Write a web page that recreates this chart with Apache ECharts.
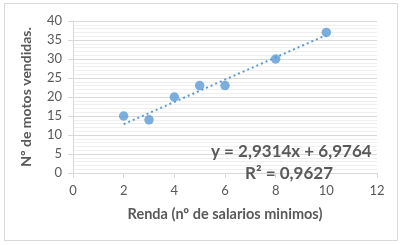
<!DOCTYPE html>
<html><head><meta charset="utf-8">
<script src="https://cdn.jsdelivr.net/npm/echarts@6/dist/echarts.min.js"></script>
<style>html,body{margin:0;padding:0;background:#fff}#c{width:405px;height:245px}</style>
</head><body><div id="c"></div>
<script>
const renda = [2, 3, 4, 5, 6, 8, 10];
const motos = [15, 14, 20, 23, 23, 30, 37];
const slope = 2.9314;
const intercept = 6.9764;
const r2Text = "0,9627";
const eqText = "y = 2,9314x + 6,9764";
const xTitle = "Renda (nº de salarios minimos)";
const yTitle = "Nº de motos vendidas.";

const points = renda.map((x, i) => [x, motos[i]]);
const xMin = Math.min(...renda), xMax = Math.max(...renda);
const trend = [[xMin, slope * xMin + intercept], [xMax, slope * xMax + intercept]];

const chart = echarts.init(document.getElementById('c'), null, {renderer: 'canvas'});
const font = 'Lato, "Open Sans", sans-serif';
const grey = '#595959';
chart.setOption({
  animation: false,
  backgroundColor: '#fff',
  grid: {left: 73, right: 28, top: 21, bottom: 72},
  xAxis: {
    type: 'value', min: 0, max: 12, interval: 2,
    name: xTitle, nameLocation: 'middle', nameGap: 34,
    nameTextStyle: {color: grey, fontFamily: font, fontWeight: 'bold', fontSize: 14.5},
    axisLine: {lineStyle: {color: '#d9d9d9'}},
    axisTick: {show: true, length: 5, lineStyle: {color: '#d9d9d9'}},
    axisLabel: {color: grey, fontFamily: font, fontSize: 13, margin: 11},
    splitLine: {show: false}
  },
  yAxis: {
    type: 'value', min: 0, max: 40, interval: 5,
    name: yTitle, nameLocation: 'middle', nameGap: 40, nameRotate: 90,
    nameTextStyle: {color: grey, fontFamily: font, fontWeight: 'bold', fontSize: 14},
    axisLine: {show: true, lineStyle: {color: '#d9d9d9'}},
    axisTick: {show: true, length: 5, lineStyle: {color: '#d9d9d9'}},
    axisLabel: {color: grey, fontFamily: font, fontSize: 13, margin: 11},
    splitLine: {show: true, lineStyle: {color: '#d9d9d9'}},
    minorTick: {show: false, splitNumber: 5},
    minorSplitLine: {show: true, lineStyle: {color: '#efefef'}}
  },
  graphic: [
    {type: 'rect', shape: {x: 4.5, y: 3.5, width: 393, height: 237}, style: {fill: null, stroke: '#d9d9d9', lineWidth: 1}, silent: true, z: -1},
    {type: 'text', left: 211, top: 143, style: {text: eqText, fill: grey, font: 'bold 17px ' + font}, z: 100},
    {type: 'text', left: 245, top: 165, style: {text: 'R² = ' + r2Text, fill: grey, font: 'bold 17px ' + font}, z: 100}
  ],
  series: [
    {
      type: 'line', data: trend, showSymbol: false, symbol: 'none',
      lineStyle: {color: '#5b9bd5', width: 2, type: [2, 3]}, z: 2
    },
    {
      type: 'scatter', data: points, symbolSize: 9.5,
      itemStyle: {color: '#5b9bd5'}, z: 3
    }
  ]
});
</script></body></html>
